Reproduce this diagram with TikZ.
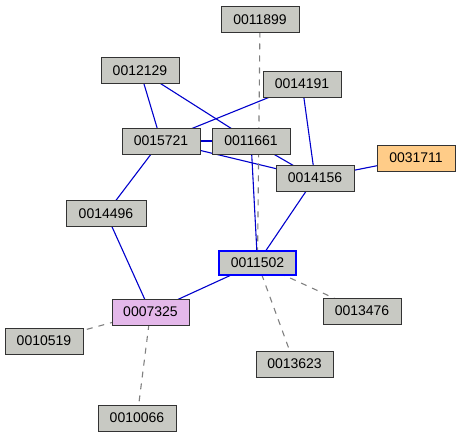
\documentclass[tikz,border=0pt]{standalone}
\usepackage{fontspec}
\setmainfont{Liberation Sans}
\usetikzlibrary{backgrounds}
\definecolor{boxgray}{RGB}{200,201,195}
\definecolor{boxpink}{RGB}{228,184,234}
\definecolor{boxorange}{RGB}{255,204,136}
\definecolor{edgeblue}{RGB}{0,0,204}
\definecolor{hiblue}{RGB}{0,0,255}
\definecolor{dashgray}{RGB}{128,128,128}
\begin{document}
\begin{tikzpicture}[x=1pt,y=-1pt,
  box/.style={draw=black!80,line width=1pt,fill=boxgray,minimum width=78pt,minimum height=26pt,inner sep=0pt,font=\fontsize{14}{16}\selectfont},
  strong/.style={draw=edgeblue,line width=1.1pt},
  weak/.style={draw=dashgray,line width=1.1pt,dash pattern=on 6pt off 6pt}]
\useasboundingbox (0,0) rectangle (461,439);
\node[box] (n11899) at (260,19.5) {0011899};
\node[box] (n12129) at (140,70.5) {0012129};
\node[box] (n14191) at (302,84) {0014191};
\node[box] (n15721) at (161,141) {0015721};
\node[box] (n11661) at (251,141) {0011661};
\node[box,fill=boxorange] (n31711) at (416,158) {0031711};
\node[box] (n14156) at (315,178) {0014156};
\node[box,minimum width=80pt] (n14496) at (106,213.5) {0014496};
\node[box,draw=hiblue,line width=2.4pt,minimum width=77pt,minimum height=24.5pt] (n11502) at (257.5,263) {0011502};
\node[box,fill=boxpink,minimum width=77pt] (n07325) at (150.5,312) {0007325};
\node[box] (n13476) at (362,311) {0013476};
\node[box] (n10519) at (44,341) {0010519};
\node[box,minimum width=77pt] (n13623) at (294.5,364) {0013623};
\node[box] (n10066) at (137,418) {0010066};
\begin{scope}[on background layer]
\draw[strong] (n12129.center) -- (n15721.center);
\draw[strong] (n12129.center) -- (n11661.center);
\draw[strong] (n14191.center) -- (n15721.center);
\draw[strong] (n14191.center) -- (n14156.center);
\draw[strong] (n15721.center) -- (n11661.center);
\draw[strong] (n15721.center) -- (n14156.center);
\draw[strong] (n11661.center) -- (n14156.center);
\draw[strong] (n31711.center) -- (n14156.center);
\draw[strong] (n15721.center) -- (n14496.center);
\draw[strong] (n14496.center) -- (n07325.center);
\draw[strong] (n14156.center) -- (n11502.center);
\draw[strong] (n11661.center) -- (n11502.center);
\draw[strong] (n11502.center) -- (n07325.center);
\draw[weak] (n11899.center) -- (n11502.center);
\draw[weak] (n11502.center) -- (n13476.center);
\draw[weak] (n11502.center) -- (n13623.center);
\draw[weak] (n07325.center) -- (n10519.center);
\draw[weak] (n07325.center) -- (n10066.center);
\end{scope}
\end{tikzpicture}
\end{document}
